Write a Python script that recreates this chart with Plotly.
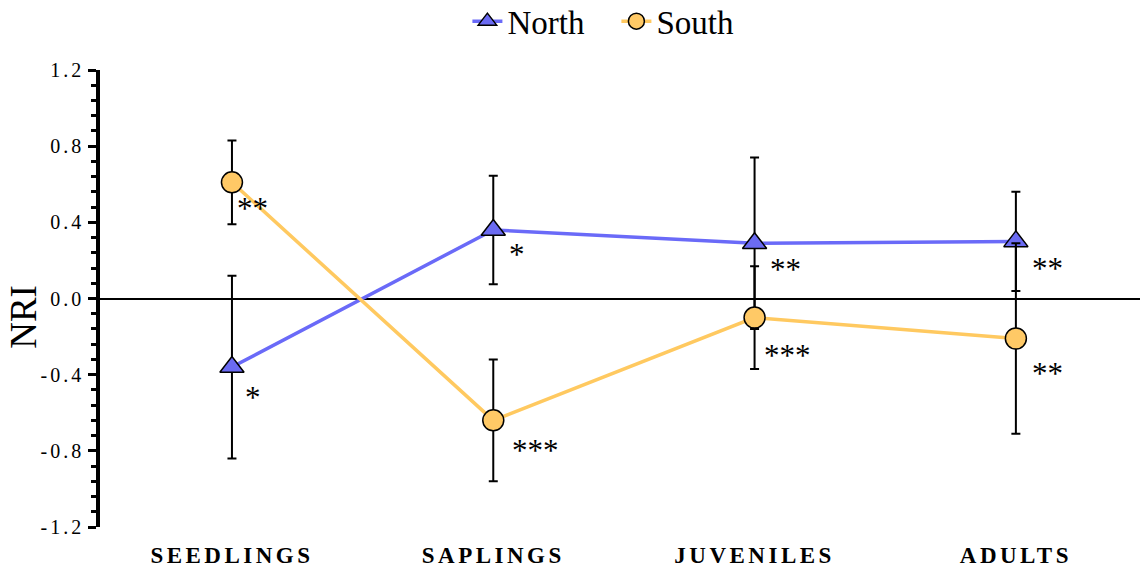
import plotly.graph_objects as go

# Life stages and NRI means with error half-widths
stages = ["SEEDLINGS", "SAPLINGS", "JUVENILES", "ADULTS"]
north = [-0.36, 0.36, 0.29, 0.30]
north_err = [0.48, 0.285, 0.45, 0.26]
south = [0.61, -0.64, -0.10, -0.21]
south_err = [0.22, 0.32, 0.27, 0.50]
north_sig = ["*", "*", "**", "**"]
south_sig = ["**", "***", "***", "**"]
y_ticks = [-1.2, -0.8, -0.4, 0.0, 0.4, 0.8, 1.2]

SERIF = "Liberation Serif, Times New Roman, serif"

fig = go.Figure()

fig.add_trace(go.Scatter(
    x=list(range(len(stages))), y=north, name="North",
    mode="lines+markers",
    line=dict(color="#6a6af8", width=3.5),
    marker=dict(symbol="triangle-up", size=21, color="#6b6bf2",
                line=dict(color="black", width=1.5)),
    error_y=dict(type="data", array=north_err, symmetric=True,
                 color="black", thickness=2, width=4.5),
))
fig.add_trace(go.Scatter(
    x=list(range(len(stages))), y=south, name="South",
    mode="lines+markers",
    line=dict(color="#ffc960", width=3.5),
    marker=dict(symbol="circle", size=21, color="#ffc966",
                line=dict(color="black", width=1.5)),
    error_y=dict(type="data", array=south_err, symmetric=True,
                 color="black", thickness=2, width=4.5),
))

# Significance marks next to each point
north_offsets = [(11, -28), (14, -23), (13, -24), (14, -25)]
south_offsets = [(3, -24), (17, -28), (7, -36), (14, -33)]
for vals, sigs, offs in ((north, north_sig, north_offsets), (south, south_sig, south_offsets)):
    for i, (v, s, (dx, dy)) in enumerate(zip(vals, sigs, offs)):
        fig.add_annotation(x=i, y=v, xref="x", yref="y", text=s, showarrow=False,
                           xanchor="left", yanchor="middle", xshift=dx, yshift=dy - 2,
                           font=dict(family=SERIF, size=31, color="black"))

# Y-axis title
fig.add_annotation(x=0, y=0.46, xref="paper", yref="paper", text="NRI", showarrow=False,
                   textangle=-90, xanchor="center", yanchor="middle", xshift=-76,
                   font=dict(family=SERIF, size=37, color="black"))

fig.update_layout(
    width=1140, height=573,
    margin=dict(l=100, r=0, t=70, b=46),
    paper_bgcolor="white", plot_bgcolor="white",
    font=dict(family=SERIF, color="black"),
    showlegend=True,
    legend=dict(orientation="h", xref="container", yref="container",
                x=0.41, y=0.963, xanchor="left", yanchor="middle",
                font=dict(family=SERIF, size=33, color="black"),
                bgcolor="rgba(0,0,0,0)", itemwidth=30, tracegroupgap=0,
                entrywidth=104, entrywidthmode="pixels"),
    xaxis=dict(range=[-0.505, 3.475], tickmode="array",
               tickvals=list(range(len(stages))), ticktext=stages,
               showgrid=False, zeroline=False, showline=False, ticks="",
               ticklabelstandoff=12,
               tickfont=dict(family=SERIF, size=23, color="black", weight="bold")),
    yaxis=dict(range=[-1.2, 1.2], tickmode="array", tickvals=y_ticks,
               ticktext=[f"{t:.1f}" for t in y_ticks],
               showgrid=False, zeroline=True, zerolinecolor="black", zerolinewidth=2,
               showline=True, linecolor="black", linewidth=3.5,
               ticks="outside", ticklen=8, tickwidth=3, tickcolor="black",
               minor=dict(dtick=0.08, tick0=0, ticks="outside", ticklen=5,
                          tickwidth=3, tickcolor="black", showgrid=False),
               tickfont=dict(family=SERIF, size=20, color="black")),
)

# Wider letter tracking on the axis tick labels
post = """
var gd = document.getElementsByClassName('plotly-graph-div')[0];
function track(){
  gd.querySelectorAll('.xtick text').forEach(function(t){ t.style.letterSpacing='3.5px'; });
  gd.querySelectorAll('.ytick text').forEach(function(t){ t.style.letterSpacing='3px'; });
}
track();
gd.on('plotly_afterplot', track);
"""

fig.write_html("out.html", post_script=post)
